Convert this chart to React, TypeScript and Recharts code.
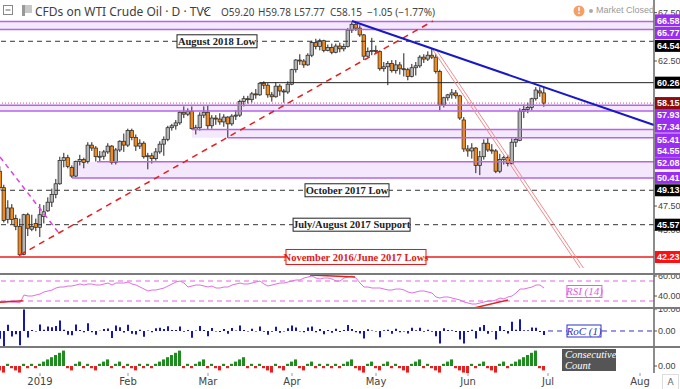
import React from "react";
import {
  ComposedChart,
  Bar,
  Line,
  XAxis,
  YAxis,
  ReferenceLine,
  ReferenceArea,
  ReferenceDot,
  Cell,
} from "recharts";

// trading days, Dec 17 2018 .. Jun 28 2019 (index -10 .. 126, Jan 2 = 0)
const days = [
  "Dec 17", "Dec 18", "Dec 19", "Dec 20", "Dec 21", "Dec 24", "Dec 26", "Dec 27", "Dec 28", "Dec 31",
  "Jan 2", "Jan 3", "Jan 4", "Jan 7", "Jan 8", "Jan 9", "Jan 10", "Jan 11", "Jan 14", "Jan 15", "Jan 16",
  "Jan 17", "Jan 18", "Jan 21", "Jan 22", "Jan 23", "Jan 24", "Jan 25", "Jan 28", "Jan 29", "Jan 30", "Jan 31",
  "Feb 1", "Feb 4", "Feb 5", "Feb 6", "Feb 7", "Feb 8", "Feb 11", "Feb 12", "Feb 13", "Feb 14",
  "Feb 15", "Feb 18", "Feb 19", "Feb 20", "Feb 21", "Feb 22", "Feb 25", "Feb 26", "Feb 27", "Feb 28",
  "Mar 1", "Mar 4", "Mar 5", "Mar 6", "Mar 7", "Mar 8", "Mar 11", "Mar 12", "Mar 13", "Mar 14", "Mar 15",
  "Mar 18", "Mar 19", "Mar 20", "Mar 21", "Mar 22", "Mar 25", "Mar 26", "Mar 27", "Mar 28", "Mar 29",
  "Apr 1", "Apr 2", "Apr 3", "Apr 4", "Apr 5", "Apr 8", "Apr 9", "Apr 10", "Apr 11", "Apr 12", "Apr 15",
  "Apr 16", "Apr 17", "Apr 18", "Apr 22", "Apr 23", "Apr 24", "Apr 25", "Apr 26", "Apr 29", "Apr 30",
  "May 1", "May 2", "May 3", "May 6", "May 7", "May 8", "May 9", "May 10", "May 13", "May 14", "May 15",
  "May 16", "May 17", "May 20", "May 21", "May 22", "May 23", "May 24", "May 27", "May 28", "May 29",
  "May 30", "May 31",
  "Jun 3", "Jun 4", "Jun 5", "Jun 6", "Jun 7", "Jun 10", "Jun 11", "Jun 12", "Jun 13", "Jun 14",
  "Jun 17", "Jun 18", "Jun 19", "Jun 20", "Jun 21", "Jun 24", "Jun 25", "Jun 26", "Jun 27", "Jun 28",
];

const opens = [
  51.1, 49.4, 46.1, 47.3, 46.2, 45.4, 42.5, 46.6, 45.1, 45.7,
  45.3, 46.4, 47.0, 47.9, 48.7, 49.8, 52.2, 52.5, 51.5, 50.6, 52.1, 52.3, 52.1, 53.8, 53.5, 52.6, 52.65, 53.1, 53.7, 52.0, 53.3, 54.2,
  53.8, 55.3, 54.6, 53.7, 54.0, 52.6, 52.7, 52.4, 53.1, 53.9, 54.4, 55.6, 55.8, 56.1, 57.2, 57.0, 57.3, 55.4, 55.6, 56.9,
  57.2, 55.8, 56.6, 56.5, 56.2, 56.7, 56.0, 56.8, 56.9, 58.3, 58.6, 58.5, 59.1, 59.0, 60.2, 60.0, 59.0, 58.8, 59.9, 59.4, 59.3,
  60.1, 61.6, 62.6, 62.5, 62.1, 63.1, 64.4, 64.0, 64.6, 63.6, 63.9, 63.4, 64.05, 63.76, 64.0, 65.7, 66.3, 65.9, 65.2, 63.0, 63.5,
  63.6, 63.5, 61.7, 61.9, 62.25, 61.5, 62.1, 61.7, 61.6, 60.9, 61.8, 62.0, 62.9, 62.7, 63.1, 62.9, 61.4, 57.95, 58.7, 59.0, 59.2, 58.9, 56.4,
  53.4, 53.2, 53.5, 51.7, 52.6, 54.0, 53.3, 53.2, 51.1, 52.3, 52.5, 51.9, 54.1, 54.3, 57.3, 57.5, 57.7, 58.6, 59.4, 59.2,
];

const highs = [
  51.6, 49.7, 48.1, 47.7, 46.6, 46.2, 46.7, 46.8, 46.6, 46.2,
  47.7, 47.6, 48.4, 49.3, 50.3, 52.6, 53.0, 52.8, 51.7, 52.2, 52.8, 52.5, 54.1, 54.1, 53.7, 53.2, 53.3, 54.0, 53.8, 53.5, 54.3, 55.0,
  55.5, 55.5, 54.9, 54.4, 54.2, 53.0, 53.0, 53.5, 54.2, 54.7, 55.8, 56.0, 56.4, 57.3, 57.8, 57.6, 57.8, 55.9, 57.2, 57.8,
  57.9, 56.9, 56.9, 57.1, 57.0, 56.8, 57.0, 57.4, 58.5, 58.9, 58.9, 59.3, 59.6, 60.3, 60.4, 60.2, 59.3, 60.3, 60.1, 59.6, 60.4,
  61.7, 62.7, 63.2, 62.7, 63.3, 64.6, 64.8, 64.8, 64.7, 64.2, 64.3, 64.3, 64.4, 64.3, 65.9, 66.6, 66.5, 66.2, 65.3, 63.9, 64.9,
  64.1, 63.6, 62.4, 62.5, 62.6, 62.6, 62.4, 63.3, 61.8, 62.2, 62.4, 63.1, 63.2, 63.5, 63.8, 63.2, 61.6, 58.8, 59.1, 59.6, 59.5, 59.0, 56.7,
  53.8, 54.0, 53.6, 53.2, 54.4, 54.6, 53.9, 53.4, 52.9, 52.7, 52.8, 54.5, 54.6, 57.6, 58.0, 58.2, 58.7, 59.8, 59.8, 59.78,
];

const lows = [
  49.1, 45.8, 45.7, 45.6, 45.0, 42.3, 42.4, 44.4, 44.9, 44.9,
  44.3, 45.7, 46.9, 47.4, 48.3, 49.7, 51.5, 51.4, 50.41, 50.5, 51.7, 51.4, 51.9, 53.2, 52.1, 52.1, 52.3, 52.9, 51.8, 51.8, 53.1, 53.1,
  53.6, 54.3, 53.2, 53.4, 52.4, 51.3, 51.9, 52.2, 52.9, 52.7, 54.2, 55.3, 55.4, 55.9, 56.6, 56.8, 55.4, 54.9, 55.3, 56.6,
  55.4, 55.5, 55.9, 55.9, 55.7, 54.55, 55.8, 56.4, 56.7, 57.8, 58.1, 58.2, 58.6, 58.9, 59.6, 58.7, 58.3, 58.7, 58.9, 58.2, 59.1,
  60.0, 61.3, 62.1, 61.8, 62.0, 62.9, 63.7, 63.6, 63.4, 63.5, 63.2, 63.3, 63.4, 63.5, 63.9, 65.4, 65.6, 65.0, 62.6, 62.9, 63.1,
  63.3, 61.5, 61.4, 60.0, 61.3, 61.2, 61.1, 60.9, 60.5, 60.8, 61.0, 61.8, 62.3, 62.5, 62.7, 61.2, 57.4, 57.7, 58.4, 58.6, 58.6, 56.4, 53.1,
  52.6, 52.4, 50.9, 50.7, 52.3, 53.1, 52.9, 50.9, 50.9, 51.8, 51.6, 51.8, 53.6, 54.2, 56.6, 57.1, 57.4, 58.4, 58.8, 57.77,
];

const closes = [
  49.4, 46.0, 47.3, 46.1, 45.4, 42.45, 46.6, 45.2, 45.4, 45.3,
  46.6, 46.9, 47.9, 48.7, 49.8, 52.2, 52.5, 51.6, 50.6, 52.1, 52.3, 52.0, 53.8, 53.5, 52.6, 52.65, 53.1, 53.7, 52.0, 53.3, 54.2, 53.8,
  55.3, 54.6, 53.7, 54.0, 52.6, 52.7, 52.4, 53.1, 53.9, 54.4, 55.6, 55.8, 56.1, 57.2, 57.0, 57.3, 55.5, 55.6, 56.9, 57.2,
  55.8, 56.6, 56.5, 56.2, 56.7, 56.0, 56.8, 56.9, 58.3, 58.6, 58.5, 59.1, 59.0, 60.2, 60.0, 59.0, 58.8, 59.9, 59.4, 59.3, 60.1,
  61.6, 62.6, 62.5, 62.1, 63.1, 64.4, 64.0, 64.6, 63.6, 63.9, 63.4, 64.05, 63.76, 64.0, 65.7, 66.3, 65.9, 65.2, 63.0, 63.5, 63.6,
  63.5, 61.7, 61.9, 62.25, 61.5, 62.1, 61.7, 61.6, 60.9, 61.8, 62.0, 62.9, 62.7, 63.1, 62.9, 61.4, 57.93, 58.7, 59.0, 59.2, 58.9, 56.6, 53.4,
  53.2, 53.5, 51.7, 52.6, 54.0, 53.3, 53.2, 51.1, 52.3, 52.5, 51.9, 54.1, 54.4, 57.3, 57.5, 57.7, 58.6, 59.5, 59.2, 58.15,
];

const rsi14 = [
  34.5, 33.8, 35, 34, 33.8, 33.2, 41, 40, 40, 41,
  42, 44, 45, 46, 48, 49, 49, 50, 50, 51, 52, 51, 52, 52, 51, 51, 52, 53, 51, 53, 53, 53,
  54, 52, 51, 49, 47, 45, 46, 46, 47, 48, 50, 52, 54, 55, 53, 49, 50, 51, 51, 50,
  49, 50, 48, 48, 49, 49, 51, 52, 53, 52, 52, 53, 54, 55, 52, 50, 51, 52, 53, 53, 54,
  55, 56, 56, 58, 59, 60, 58, 57, 58, 58, 57, 55, 55, 58, 59, 60, 58, 53, 49, 49, 48,
  48, 48, 47, 46, 46, 47, 47, 46, 44, 43, 44, 45, 45, 44, 43, 39, 38, 39, 39, 38, 37, 36, 34,
  33, 32, 32, 33, 34, 35, 35, 36, 38, 37, 39, 40, 43, 47, 47, 48, 49, 51, 51, 48,
];

const roc1 = [
  -3.5, -6.9, 2.8, -2.5, -1.5, -6.5, 9.8, -3.0, 0.4, -0.2,
  2.9, 0.6, 2.1, 1.7, 2.3, 4.8, 0.6, -1.7, -1.9, 3.0, 0.4, -0.6, 3.5, -0.6, -1.7, 0.1, 0.9, 1.1, -3.2, 2.5, 1.7, -0.7,
  2.8, -1.3, -1.6, 0.6, -2.6, 0.2, -0.6, 1.3, 1.5, 0.9, 2.2, 0.4, 0.5, 2.0, -0.3, 0.5, -3.1, 0.2, 2.3, 0.5,
  -2.4, 1.4, -0.2, -0.5, 0.9, -1.2, 1.4, 0.2, 2.5, 0.5, -0.2, 1.0, -0.2, 2.0, -0.3, -1.7, -0.3, 1.9, -0.8, -0.2, 1.3,
  2.5, 1.6, -0.2, -0.6, 1.6, 2.1, -0.6, 0.9, -1.5, 0.5, -0.8, 1.0, -0.5, 0.4, 2.7, 0.9, -0.6, -1.1, -3.4, 0.8, 0.2,
  -0.2, -2.8, 0.3, 0.6, -1.2, 1.0, -0.6, -0.2, -1.1, 1.5, 0.3, 1.5, -0.3, 0.6, -0.3, -2.4, -5.7, 1.3, 0.5, 0.3, -0.5, -3.9, -5.7,
  -0.4, 0.6, -3.4, 1.7, 2.7, -1.3, -0.2, -3.9, 2.3, 0.4, -1.1, 4.2, 0.6, 5.3, 0.3, 0.3, 1.6, 1.5, -0.5, -1.8,
];

const streaks = [
  -2, -3, 1, -1, -2, -3, 1, -1, 1, -1,
  1, 2, 3, 4, 5, 6, 7, -1, -2, 1, 2, -1, 1, -1, -2, 1, 2, 3, -1, 1, 2, -1,
  1, -1, -2, 1, -1, 1, -1, 1, 2, 3, 4, 5, 6, 7, -1, 1, -1, 1, 2, 3,
  -1, 1, -1, -2, 1, -1, 1, 2, 3, 4, -1, 1, -1, 1, -1, -2, -3, 1, -1, -2, 1,
  2, 3, -1, -2, 1, 2, -1, 1, -1, 1, -1, 1, -1, 1, 2, 3, -1, -2, -3, 1, 2,
  -1, -2, 1, 2, -1, 1, -1, -2, -3, 1, 2, 3, -1, 1, -1, -2, -3, 1, 2, 3, -1, -2, -3,
  -4, 1, -1, 1, 2, -1, -2, -3, 1, 2, -1, 1, 2, 3, 4, 5, 6, 7, -1, -2,
];

const monthTicks = [0, 22, 42, 63, 84, 107, 127, 150];
const monthLabels = ["2019", "Feb", "Mar", "Apr", "May", "Jun", "Jul", "Aug"];

const priceLevels = [
  67.5, 62.5, 47.5, 45, 66.58, 65.77, 64.54, 60.26, 58.15, 57.93, 57.34, 55.41, 54.55, 52.08, 50.41, 49.13, 45.57, 42.23,
];

const FIRST = -10;
const X_DOMAIN: [number, number] = [-10, 153.5];
const PURPLE = "#9a2ef0";
const BAND_LINE = "#b565e8";
const BAND_FILL = "#f4e9fc";
const AXIS_FONT = "Liberation Sans, Arial, sans-serif";

// label colours and the small shifts the stacked labels get
const TAG: Record<string, { bg: string; dy?: number }> = {
  "66.58": { bg: PURPLE, dy: -1.2 },
  "65.77": { bg: PURPLE, dy: 3.6 },
  "64.54": { bg: "#000", dy: 4.6 },
  "60.26": { bg: "#000" },
  "58.15": { bg: "#8e0c0c" },
  "57.93": { bg: PURPLE, dy: 9.8 },
  "57.34": { bg: PURPLE, dy: 15.8 },
  "55.41": { bg: PURPLE, dy: 9.8 },
  "54.55": { bg: PURPLE, dy: 13.1 },
  "52.08": { bg: PURPLE, dy: 1.5 },
  "50.41": { bg: PURPLE },
  "49.13": { bg: "#000" },
  "45.57": { bg: "#000" },
  "42.23": { bg: "#ff1010" },
};

const bars = days.map((d, k) => ({
  i: k + FIRST,
  day: d,
  open: opens[k],
  high: highs[k],
  low: lows[k],
  close: closes[k],
  range: [lows[k], highs[k]],
  rsi: rsi14[k],
  roc: roc1[k],
  streak: streaks[k],
}));

function Candle(props: any) {
  const { x, y, width, height, payload } = props;
  if (!payload) return null;
  const top = Math.min(y, y + height);
  const h = Math.abs(height);
  const k = h / (payload.high - payload.low);
  const cx = x + width / 2;
  const yo = top + (payload.high - payload.open) * k;
  const yc = top + (payload.high - payload.close) * k;
  const up = payload.close >= payload.open;
  return (
    <g>
      <line x1={cx} x2={cx} y1={top} y2={top + h} stroke="#222" strokeWidth={1} />
      <rect
        x={cx - 1.75}
        y={Math.min(yo, yc)}
        width={3.5}
        height={Math.max(Math.abs(yo - yc), 1)}
        fill={up ? "#b5b5b5" : "#ef8a1f"}
        stroke="#222"
        strokeWidth={0.7}
      />
    </g>
  );
}

function PriceTick(props: any) {
  const { x, y, payload } = props;
  const key = Number(payload.value).toFixed(2);
  const s = TAG[key];
  const cy = y + (s?.dy || 0);
  if (!s) {
    return (
      <g>
        <line x1={x} x2={x + 3} y1={cy} y2={cy} stroke="#555" />
        <text x={x + 4} y={cy} dy="0.35em" fontSize={9} fontFamily={AXIS_FONT} fill="#444">
          {key}
        </text>
      </g>
    );
  }
  return (
    <g>
      <rect x={x + 1} y={cy - 6} width={30} height={12} fill={s.bg} />
      <text x={x + 3} y={cy} dy="0.35em" fontSize={9} fontFamily={AXIS_FONT} fontWeight="bold" fill="#fff">
        {key}
      </text>
    </g>
  );
}

function SubTick(props: any) {
  const { x, y, payload } = props;
  return (
    <g>
      <line x1={x} x2={x + 3} y1={y} y2={y} stroke="#555" />
      <text x={x + 4} y={y} dy="0.35em" fontSize={9} fontFamily={AXIS_FONT} fill="#444">
        {Number(payload.value).toFixed(2)}
      </text>
    </g>
  );
}

function tagShape(text: string, w: number, h: number, color: string, fontSize: number) {
  return (p: any) => (
    <g>
      <rect x={p.cx - w / 2} y={p.cy - h / 2} width={w} height={h} fill="#fff" stroke={color} strokeWidth={1} />
      <text
        x={p.cx}
        y={p.cy}
        dy="0.36em"
        textAnchor="middle"
        fontFamily="Liberation Serif, serif"
        fontWeight="bold"
        fontSize={fontSize}
        fill={color}
      >
        {text}
      </text>
    </g>
  );
}

function italicBox(text: string, w: number, color: string) {
  return (p: any) => (
    <g>
      <rect x={p.cx - w / 2} y={p.cy - 6} width={w} height={12} fill="#fff" stroke={color} strokeWidth={1} />
      <text
        x={p.cx}
        y={p.cy}
        dy="0.36em"
        textAnchor="middle"
        fontFamily="Liberation Serif, serif"
        fontStyle="italic"
        fontSize={11}
        fill={color}
      >
        {text}
      </text>
    </g>
  );
}

function countBox(p: any) {
  return (
    <g>
      <rect x={p.cx - 27} y={p.cy - 11} width={54} height={22} fill="#555" />
      <text x={p.cx - 24} y={p.cy - 2} fontFamily="Liberation Serif, serif" fontStyle="italic" fontSize={10.5} fill="#fff">
        Consecutive
      </text>
      <text x={p.cx - 24} y={p.cy + 9} fontFamily="Liberation Serif, serif" fontStyle="italic" fontSize={10.5} fill="#fff">
        Count
      </text>
    </g>
  );
}

const M = { top: 0, right: 0, bottom: 0, left: 0 };
const AXIS_LINE = { stroke: "#666", strokeWidth: 1.5 };

function hband(v: number, from: number, color = BAND_LINE, width = 1.5) {
  return (
    <ReferenceLine
      key={`b${v}`}
      segment={[
        { x: from, y: v },
        { x: X_DOMAIN[1], y: v },
      ]}
      stroke={color}
      strokeWidth={width}
    />
  );
}

export default function App() {
  return (
    <div
      style={{
        position: "relative",
        width: 680,
        height: 389,
        background: "#fff",
        overflow: "hidden",
        fontFamily: "DejaVu Sans, sans-serif",
      }}
    >
      <style>{`body{margin:0;}`}</style>

      {/* price panel */}
      <div style={{ position: "absolute", left: 0, top: 0 }}>
        <ComposedChart width={680} height={274} data={bars} margin={M}>
          <XAxis dataKey="i" type="number" domain={X_DOMAIN} hide allowDataOverflow />
          <YAxis
            orientation="right"
            width={26}
            domain={[40.47, 68.81]}
            allowDataOverflow
            ticks={priceLevels}
            interval={0}
            tick={<PriceTick />}
            tickLine={false}
            tickSize={0}
            tickMargin={0}
            axisLine={AXIS_LINE}
          />
          <ReferenceArea x1={X_DOMAIN[0]} x2={X_DOMAIN[1]} y1={65.77} y2={66.58} fill={BAND_FILL} fillOpacity={1} />
          <ReferenceArea x1={X_DOMAIN[0]} x2={X_DOMAIN[1]} y1={57.34} y2={57.93} fill={BAND_FILL} fillOpacity={1} />
          <ReferenceArea x1={38} x2={X_DOMAIN[1]} y1={54.55} y2={55.41} fill={BAND_FILL} fillOpacity={1} />
          <ReferenceArea x1={8} x2={X_DOMAIN[1]} y1={50.41} y2={52.08} fill={BAND_FILL} fillOpacity={1} />
          {hband(66.58, -10)}
          {hband(65.77, -10)}
          {hband(57.93, -10)}
          {hband(57.34, -10)}
          {hband(55.41, 38)}
          {hband(54.55, 47)}
          {hband(52.08, 14.25)}
          {hband(50.41, 8)}
          {hband(60.26, 55, "#222", 1)}
          <ReferenceLine y={58.15} stroke="#e05050" strokeDasharray="1 2" />
          <ReferenceLine y={64.54} stroke="#333" strokeDasharray="5 4" />
          <ReferenceLine y={49.13} stroke="#333" strokeDasharray="5 4" />
          <ReferenceLine y={45.57} stroke="#333" strokeDasharray="5 4" />
          <ReferenceLine y={42.23} stroke="#ee1c1c" strokeWidth={1.5} />
          <ReferenceLine
            segment={[
              { x: -5, y: 42.44 },
              { x: 98.25, y: 66.64 },
            ]}
            stroke="#e51e1e"
            strokeWidth={1.5}
            strokeDasharray="6 5"
          />
          <ReferenceLine
            segment={[
              { x: -10, y: 52.57 },
              { x: 4.5, y: 44.82 },
            ]}
            stroke="#e040e0"
            strokeWidth={1.5}
            strokeDasharray="5 4"
          />
          <ReferenceLine
            segment={[
              { x: 98.25, y: 63.64 },
              { x: 135, y: 41.09 },
            ]}
            stroke="#f08a8a"
            strokeWidth={1}
          />
          <ReferenceLine
            segment={[
              { x: 99.1, y: 63.64 },
              { x: 135.85, y: 41.09 },
            ]}
            stroke="#f08a8a"
            strokeWidth={1}
          />
          <ReferenceLine
            segment={[
              { x: 78, y: 66.64 },
              { x: 153.5, y: 55.88 },
            ]}
            stroke="#1818c8"
            strokeWidth={2}
          />
          <Bar dataKey="range" barSize={4} shape={<Candle />} isAnimationActive={false} />
          <ReferenceDot x={44.25} y={64.54} r={0} shape={tagShape("August 2018 Low", 80, 13, "#222", 10.5)} />
          <ReferenceDot x={76.75} y={49.13} r={0} shape={tagShape("October 2017 Low", 84, 13, "#222", 10.5)} />
          <ReferenceDot x={77.9} y={45.57} r={0} shape={tagShape("July/August 2017 Support", 117, 13, "#222", 10.5)} />
          <ReferenceDot
            x={79}
            y={42.23}
            r={0}
            shape={tagShape("November 2016/June 2017 Lows", 140, 15, "#e01818", 10.5)}
          />
        </ComposedChart>
      </div>

      {/* RSI panel */}
      <div style={{ position: "absolute", left: 0, top: 274 }}>
        <ComposedChart width={680} height={34} data={bars} margin={M}>
          <XAxis dataKey="i" type="number" domain={X_DOMAIN} hide allowDataOverflow />
          <YAxis
            orientation="right"
            width={26}
            domain={[28, 62]}
            allowDataOverflow
            ticks={[60, 40]}
            interval={0}
            tick={<SubTick />}
            tickLine={false}
            tickSize={0}
            tickMargin={0}
            axisLine={AXIS_LINE}
          />
          <ReferenceLine y={55} stroke="#e466e4" strokeDasharray="5 4" strokeWidth={1.2} />
          <ReferenceLine y={35} stroke="#e466e4" strokeDasharray="5 4" strokeWidth={1.2} />
          <Line dataKey="rsi" stroke="#e070e0" strokeWidth={1} dot={false} isAnimationActive={false} />
          <ReferenceLine
            segment={[
              { x: 67.5, y: 61 },
              { x: 78.75, y: 59 },
            ]}
            stroke="#e02424"
            strokeWidth={1.5}
          />
          <ReferenceLine
            segment={[
              { x: 108.75, y: 28.3 },
              { x: 117, y: 36 },
            ]}
            stroke="#e02424"
            strokeWidth={1.5}
          />
          <ReferenceLine
            segment={[
              { x: -10, y: 33.7 },
              { x: -4.3, y: 35.3 },
            ]}
            stroke="#e02424"
            strokeWidth={1.5}
          />
          <ReferenceDot x={136.1} y={44.5} r={0} shape={italicBox("RSI (14)", 35, "#e060e0")} />
        </ComposedChart>
      </div>

      {/* RoC panel */}
      <div style={{ position: "absolute", left: 0, top: 308 }}>
        <ComposedChart width={680} height={39} data={bars} margin={M}>
          <XAxis dataKey="i" type="number" domain={X_DOMAIN} hide allowDataOverflow />
          <YAxis
            orientation="right"
            width={26}
            domain={[-7.27, 10.45]}
            allowDataOverflow
            ticks={[10, 0]}
            interval={0}
            tick={<SubTick />}
            tickLine={false}
            tickSize={0}
            tickMargin={0}
            axisLine={AXIS_LINE}
          />
          <ReferenceLine
            segment={[
              { x: 127, y: 0 },
              { x: 153.5, y: 0 },
            ]}
            stroke="#3434cc"
            strokeDasharray="5 4"
          />
          <Bar dataKey="roc" barSize={2} fill="#1616b0" isAnimationActive={false} />
          <ReferenceDot x={136} y={0} r={0} shape={italicBox("RoC (1)", 34, "#3030c8")} />
        </ComposedChart>
      </div>

      {/* consecutive count panel */}
      <div style={{ position: "absolute", left: 0, top: 347 }}>
        <ComposedChart width={680} height={42} data={bars} margin={M}>
          <XAxis
            dataKey="i"
            type="number"
            domain={X_DOMAIN}
            allowDataOverflow
            ticks={monthTicks}
            interval={0}
            height={16}
            tickFormatter={(v: number) => monthLabels[monthTicks.indexOf(v)]}
            tick={{ fontSize: 10, fill: "#444" }}
            tickLine={{ stroke: "#999" }}
            tickSize={3}
            axisLine={false}
          />
          <YAxis
            orientation="right"
            width={26}
            domain={[-3.18, 8.64]}
            allowDataOverflow
            ticks={[0]}
            interval={0}
            tick={<SubTick />}
            tickLine={false}
            tickSize={0}
            tickMargin={0}
            axisLine={AXIS_LINE}
          />
          <Bar dataKey="streak" barSize={3} isAnimationActive={false}>
            {bars.map((b) => (
              <Cell key={b.i} fill={b.streak > 0 ? "#1e8c1e" : "#e42020"} />
            ))}
          </Bar>
          <ReferenceDot x={137.25} y={2.73} r={0} shape={countBox} />
        </ComposedChart>
      </div>

      {/* panel separators */}
      {[273, 307, 346].map((t) => (
        <div key={t} style={{ position: "absolute", left: 0, top: t, width: 680, height: 2, background: "#7a7a7a" }} />
      ))}

      {/* header */}
      <svg style={{ position: "absolute", left: 0, top: 0 }} width={680} height={20}>
        <rect x={3.5} y={5.5} width={9} height={9} fill="#fff" stroke="#888" />
        <line x1={5.5} x2={10.5} y1={10} y2={10} stroke="#666" />
        <rect x={22} y={5} width={3} height={11} fill="#999" />
        <rect x={25} y={5} width={7} height={8} fill="#c8c8c8" />
        <polyline points="203,9 206,12 209,9" fill="none" stroke="#555" strokeWidth={1} />
        <circle cx={579} cy={11} r={5.5} fill="#f4a064" />
        <text x={579} y={11} dy="0.35em" textAnchor="middle" fontSize={8} fontWeight="bold" fill="#fff">
          !
        </text>
        <circle cx={591} cy={11} r={2} fill="#aaa" />
      </svg>
      <div
        style={{
          position: "absolute",
          left: 35,
          top: 3,
          fontSize: 12,
          color: "#404040",
          fontFamily: "Noto Sans, sans-serif",
          whiteSpace: "nowrap",
        }}
      >
        CFDs on WTI Crude Oil · D · TVC
      </div>
      {[
        ["O59.20", 221],
        ["H59.78", 258],
        ["L57.77", 294],
        ["C58.15", 330],
        ["−1.05 (−1.77%)", 367],
      ].map(([t, x]) => (
        <div
          key={t as string}
          style={{
            position: "absolute",
            left: x as number,
            top: 5,
            fontSize: 10,
            color: "#444",
            fontFamily: "Noto Sans, sans-serif",
            whiteSpace: "nowrap",
          }}
        >
          {t}
        </div>
      ))}
      <div
        style={{
          position: "absolute",
          left: 596,
          top: 5,
          fontSize: 9,
          color: "#999",
          fontFamily: AXIS_FONT,
          whiteSpace: "nowrap",
        }}
      >
        Market Closed
      </div>
      <div
        style={{
          position: "absolute",
          left: 662,
          top: 374,
          width: 15,
          height: 14,
          border: "1px solid #ddd",
          fontSize: 9,
          color: "#666",
          textAlign: "center",
          lineHeight: "14px",
        }}
      >
        A
      </div>
    </div>
  );
}
